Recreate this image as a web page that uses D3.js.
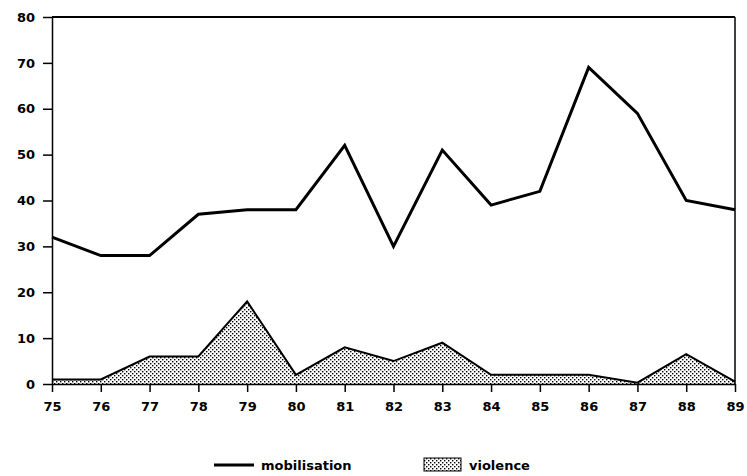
<!DOCTYPE html>
<meta charset="utf-8">
<style>
    body { margin: 0; background: #fff; }
    .axis text { font-family: "DejaVu Sans", sans-serif; font-weight: bold; font-size: 13px; fill: #000; }
    .axis path, .axis line { stroke: #000; stroke-width: 1.5px; }
    .legend text { font-family: "DejaVu Sans", sans-serif; font-weight: bold; font-size: 13px; }
</style>
<script src="https://d3js.org/d3.v7.min.js"></script>
<div id="chart"></div>
<script>
    // data
    var years = ["75", "76", "77", "78", "79", "80", "81", "82", "83", "84", "85", "86", "87", "88", "89"];
    var mobilisation = [32, 28, 28, 37, 38, 38, 52, 30, 51, 39, 42, 69, 59, 40, 38];
    var violence = [1, 1, 6, 6, 18, 2, 8, 5, 9, 2, 2, 2, 0.3, 6.5, 0.5];
    var yTicks = [0, 10, 20, 30, 40, 50, 60, 70, 80];

    var margin = { top: 17, right: 12, bottom: 92, left: 52 },
        width = 747 - margin.left - margin.right,
        height = 476 - margin.top - margin.bottom;

    var svg = d3.select("#chart").append("svg")
        .attr("width", 747)
        .attr("height", 476);

    // stipple pattern for the violence area
    var defs = svg.append("defs");
    var pat = defs.append("pattern")
        .attr("id", "stipple")
        .attr("patternUnits", "userSpaceOnUse")
        .attr("width", 4).attr("height", 4);
    pat.append("rect").attr("width", 4).attr("height", 4).attr("fill", "#fff");
    pat.append("rect").attr("x", 0).attr("y", 0).attr("width", 1.4).attr("height", 1.4).attr("fill", "#000");
    pat.append("rect").attr("x", 2).attr("y", 2).attr("width", 1.4).attr("height", 1.4).attr("fill", "#000");

    var g = svg.append("g")
        .attr("transform", "translate(" + margin.left + "," + margin.top + ")");

    var x = d3.scalePoint().domain(years).range([0, width]);
    var y = d3.scaleLinear().domain([0, 80]).range([height, 0]);

    var line = d3.line()
        .x(function (d, i) { return x(years[i]); })
        .y(function (d) { return y(d); });

    // violence area
    var area = d3.area()
        .x(function (d, i) { return x(years[i]); })
        .y0(y(0))
        .y1(function (d) { return y(d); });
    g.append("path")
        .datum(violence)
        .attr("d", area)
        .attr("fill", "url(#stipple)");
    g.append("path")
        .datum(violence)
        .attr("d", line)
        .attr("fill", "none")
        .attr("stroke", "#000")
        .attr("stroke-width", 2);

    // mobilisation line
    g.append("path")
        .datum(mobilisation)
        .attr("d", line)
        .attr("fill", "none")
        .attr("stroke", "#000")
        .attr("stroke-width", 3);

    // axes
    g.append("g")
        .attr("class", "axis")
        .attr("transform", "translate(0," + height + ")")
        .call(d3.axisBottom(x).tickSize(8).tickSizeOuter(0).tickPadding(10));

    g.append("g")
        .attr("class", "axis")
        .call(d3.axisLeft(y).tickValues(yTicks).tickSize(9).tickSizeOuter(0).tickPadding(8));

    // frame top and right
    g.append("line")
        .attr("x1", 0).attr("x2", width).attr("y1", 0).attr("y2", 0)
        .attr("stroke", "#000").attr("stroke-width", 2);
    g.append("line")
        .attr("x1", width).attr("x2", width).attr("y1", 0).attr("y2", height)
        .attr("stroke", "#000").attr("stroke-width", 1.5);

    // legend
    var legend = svg.append("g").attr("class", "legend");
    legend.append("line")
        .attr("x1", 214).attr("x2", 254).attr("y1", 465).attr("y2", 465)
        .attr("stroke", "#000").attr("stroke-width", 3);
    legend.append("text")
        .attr("x", 261).attr("y", 470)
        .text("mobilisation");
    legend.append("rect")
        .attr("x", 424).attr("y", 458).attr("width", 37).attr("height", 13)
        .attr("fill", "url(#stipple)")
        .attr("stroke", "#000").attr("stroke-width", 1);
    legend.append("text")
        .attr("x", 469).attr("y", 470)
        .text("violence");
</script>
